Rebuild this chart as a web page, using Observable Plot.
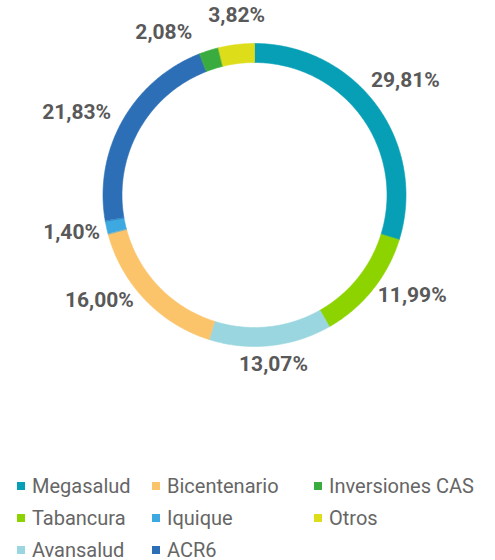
<!DOCTYPE html>
<html><head><meta charset="utf-8">
<script src="https://cdn.jsdelivr.net/npm/d3@7"></script>
<script src="https://cdn.jsdelivr.net/npm/@observablehq/plot@0.6"></script>
<style>
body{margin:0;background:#fff;font-family:Roboto,"Liberation Sans",sans-serif;}
#legend{display:grid;grid-template-rows:repeat(3,32px);grid-auto-flow:column;grid-template-columns:135px 162px 180px;padding-left:17px;}
.item{display:flex;align-items:center;font-size:20px;color:#666;white-space:nowrap;}
.sw{width:8px;height:8px;margin-right:7px;flex:none;}
</style></head><body>
<div id="chart"></div><div id="legend"></div>
<script>
// ---- data ----
const categories = ["Megasalud","Tabancura","Avansalud","Bicentenario","Iquique","ACR6","Inversiones CAS","Otros"];
const values = [29.81, 11.99, 13.07, 16.00, 1.40, 21.83, 2.08, 3.82];
const valueLabels = ["29,81%","11,99%","13,07%","16,00%","1,40%","21,83%","2,08%","3,82%"];
const colors = ["#079fb5","#8dd300","#9ad6df","#fbc46b","#3ea9e0","#2c6fb6","#3aab3f","#dddd1a"];

// ---- layout ----
const W = 495, H = 470, CX = 254, CY = 194.5, R_OUT = 151.5, R_IN = 132.5;
const labelNudgeDeg = [-0.9, -6.4, -0.4, 9.5, 0.7, -4.6, -11.7, 1.2];
const labelRadius = [189.5, 187, 170.6, 187.5, 186.8, 196, 186, 181];

const total = d3.sum(values);
let acc = 0;
const slices = categories.map((c, i) => {
  const a0 = acc / total * 360; acc += values[i]; const a1 = acc / total * 360;
  return {c, i, a0, a1, mid: (a0 + a1) / 2};
});
const rad = d => d * Math.PI / 180;
const ringPts = [];
for (const s of slices) {
  const n = Math.max(2, Math.ceil((s.a1 - s.a0) * 2));
  for (let k = 0; k <= n; k++) {
    const a = rad(s.a0 + (s.a1 - s.a0) * k / n);
    ringPts.push({cat: s.c, x: R_OUT * Math.sin(a), y: R_OUT * Math.cos(a)});
  }
  for (let k = n; k >= 0; k--) {
    const a = rad(s.a0 + (s.a1 - s.a0) * k / n);
    ringPts.push({cat: s.c, x: R_IN * Math.sin(a), y: R_IN * Math.cos(a)});
  }
}
const labelData = slices.map(s => {
  const a = rad(s.mid + labelNudgeDeg[s.i]);
  const r = labelRadius[s.i];
  return {text: valueLabels[s.i], x: r * Math.sin(a), y: r * Math.cos(a)};
});

const plot = Plot.plot({
  width: W, height: H, margin: 0,
  style: {fontFamily: "Roboto, 'Liberation Sans', sans-serif", background: "#fff"},
  x: {domain: [-CX, W - CX], axis: null},
  y: {domain: [CY - H, CY], axis: null},
  color: {domain: categories, range: colors},
  marks: [
    Plot.line(ringPts, {x: "x", y: "y", z: "cat", fill: "cat", stroke: "cat", strokeWidth: 0.6, curve: "linear-closed"}),
    Plot.text(labelData, {x: "x", y: "y", text: "text", fill: "#595959", fontSize: 21, fontWeight: "bold"})
  ]
});
document.getElementById("chart").appendChild(plot);

const color = plot.scale("color");
const legend = document.getElementById("legend");
categories.forEach((c, i) => {
  const item = document.createElement("div");
  item.className = "item";
  const sw = document.createElement("span");
  sw.className = "sw";
  sw.style.background = color.range[i];
  const t = document.createElement("span");
  t.textContent = c;
  item.appendChild(sw); item.appendChild(t);
  legend.appendChild(item);
});
</script>
</body></html>
